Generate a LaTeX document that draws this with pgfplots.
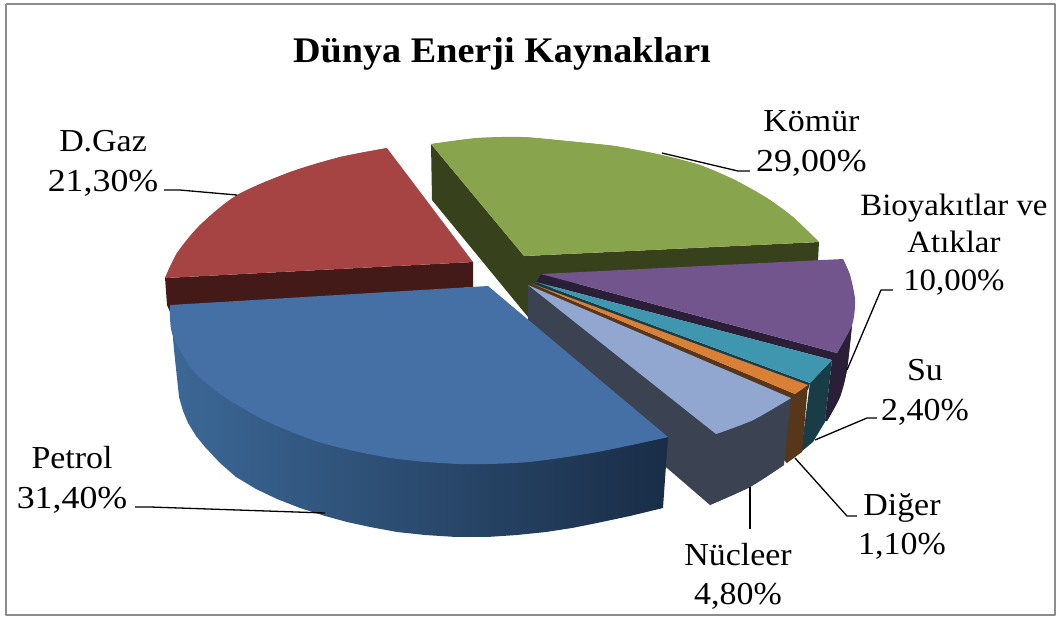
\documentclass[border=0pt]{standalone}
\usepackage{pgfplots}
\pgfplotsset{compat=1.18}
\usepackage{fontspec}
\setmainfont[FakeStretch=1.06]{Liberation Serif}
\newfontfamily\numf[FakeStretch=1.12]{Liberation Serif}
\definecolor{cgreen}{HTML}{88A44C}
\definecolor{cgreenD}{HTML}{37421D}
\definecolor{cred}{HTML}{A54442}
\definecolor{credD}{HTML}{431A18}
\definecolor{cblue}{HTML}{4570A5}
\definecolor{cblueL}{HTML}{3C6897}
\definecolor{cblueM}{HTML}{2C4F77}
\definecolor{cblueR}{HTML}{192D46}
\definecolor{cpurple}{HTML}{71558C}
\definecolor{cpurpleD}{HTML}{2B1F38}
\definecolor{cteal}{HTML}{3F96AF}
\definecolor{ctealD}{HTML}{193D47}
\definecolor{corange}{HTML}{D98036}
\definecolor{corangeD}{HTML}{57361A}
\definecolor{clight}{HTML}{92A7D0}
\definecolor{clightD}{HTML}{3B4353}
\newcommand{\lf}{\fontsize{32}{39.5}\selectfont}
\tikzset{lab/.style={overlay, inner sep=0pt, anchor=base, align=center}}
\begin{document}
\begin{tikzpicture}
\begin{axis}[
  scale only axis, width=1058pt, height=617pt,
  xmin=0, xmax=1058, ymin=0, ymax=617, y dir=reverse,
  hide axis, clip=false, no markers,
  every axis plot/.append style={line join=round},
]
% page extent
\addplot[draw=white, line width=0.1pt, forget plot] coordinates {(0,0) (1058,0) (1058,617) (0,617) (0,0)};
% frame
\addplot[draw=black!45, line width=2pt, forget plot] coordinates {(6,3.5) (1055,3.5) (1055,615) (6,615) (6,3.5)};
% D.Gaz
\addplot[fill=credD, draw=none] coordinates {(165,278) (473,262) (473,287) (170,312) (167,305)};
\addplot[fill=cred, draw=none] coordinates {(473,262) (387,148) (340,157) (290,172) (237,195) (200,225) (177,253) (165,278)};
\addplot[smooth, fill=cred, draw=none] coordinates {(387,148) (340,157) (290,172) (237,195) (200,225) (177,253) (165,278)};
% Komur
\addplot[fill=cgreenD, draw=none] coordinates {(431,144) (524,256) (819,242) (818,262) (560,285) (528,300) (528,317) (432,200)};
\addplot[fill=cgreen, draw=none] coordinates {(524,256) (431,144) (477,138) (523,137) (567,141) (615,146) (662,155) (700,165) (735,180) (767,198) (793,217) (819,242)};
\addplot[smooth, fill=cgreen, draw=none] coordinates {(431,144) (477,138) (523,137) (567,141) (615,146) (662,155) (700,165) (735,180) (767,198) (793,217) (819,242)};
% Biyoyakit
\addplot[fill=cpurpleD, draw=none] coordinates {(541,274) (837,353) (852,325) (847,370) (840,397) (827,421) (825,421) (832,360) (536,282)};
\addplot[smooth, fill=cpurpleD, draw=none] coordinates {(852,325) (847,370) (840,397) (827,421)};
\addplot[fill=cpurple, draw=none] coordinates {(541,274) (843,259) (850,275) (855,300) (852,325) (837,353)};
\addplot[smooth, fill=cpurple, draw=none] coordinates {(843,259) (850,275) (855,300) (852,325) (837,353)};
% Su
\addplot[fill=ctealD, draw=none] coordinates {(536,282) (810,383) (808,390) (534,285)};
\addplot[fill=ctealD, draw=none] coordinates {(832,360) (825,422) (813,442) (801,452) (810,383)};
\addplot[fill=cteal, draw=none] coordinates {(536,282) (832,360) (810,383)};
% Diger
\addplot[fill=corangeD, draw=none] coordinates {(533,284) (795,394) (790,398) (531,287)};
\addplot[fill=corangeD, draw=none] coordinates {(808,385) (802,452) (787,463) (784,460) (790,397)};
\addplot[fill=corange, draw=none] coordinates {(533,284) (808,385) (795,394)};
% Nukleer
\addplot[fill=clightD, draw=none] coordinates {(528,285) (791,398) (784,465) (750,487) (710,505) (667,468) (528,330)};
\addplot[smooth, fill=clightD, draw=none] coordinates {(784,465) (750,487) (710,505)};
\addplot[fill=clight, draw=none] coordinates {(528,285) (791,398) (753,420) (716,434)};
\addplot[smooth, fill=clight, draw=none] coordinates {(791,398) (753,420) (716,434)};
% Petrol
\addplot[left color=cblueL, middle color=cblueM, right color=cblueR, draw=none] coordinates {(170,305) (174,350) (179,397) (183,411) (188,423) (196,436) (205,447) (220,463) (236,477) (256,489) (277,499) (300,508) (325,516) (347,522) (370,527) (397,532) (425,535) (456,537) (487,537) (517,535) (546,532) (572,528) (597,523) (630,516) (663,508) (668,437)};
\addplot[fill=cblue, draw=none] coordinates {(488,286) (668,437) (597,452) (528,462) (460,464) (391,458) (322,443) (264,420) (219,393) (191,368) (172,333) (170,305)};
\addplot[smooth, fill=cblue, draw=none] coordinates {(668,437) (597,452) (528,462) (460,464) (391,458) (322,443) (264,420) (219,393) (191,368) (172,333) (170,305)};
% leaders
\addplot[black, line width=1.3pt] coordinates {(662,153) (738,171) (750,171)};
\addplot[black, line width=1.3pt] coordinates {(164,190) (180,190) (237,195)};
\addplot[black, line width=1.3pt] coordinates {(135,507) (150,507) (325,513)};
\addplot[black, line width=1.3pt] coordinates {(750,487) (750,529)};
\addplot[black, line width=1.3pt] coordinates {(795,458) (847,516) (857,516)};
\addplot[black, line width=1.3pt] coordinates {(815,440) (867,418) (877,418)};
\addplot[black, line width=1.3pt] coordinates {(847,370) (881,290) (893,290)};
% text
\node[overlay,inner sep=0pt,anchor=base,font=\fontsize{36}{40}\selectfont\bfseries] at (axis cs:502,62) {Dünya Enerji Kaynakları};
\node[lab,font=\lf] at (axis cs:811.5,171) {Kömür\\ {\numf 29,00\%}};
\node[lab,font=\lf] at (axis cs:103,191) {D.Gaz\\ {\numf 21,30\%}};
\node[lab,font=\lf] at (axis cs:72,508) {Petrol\\ {\numf 31,40\%}};
\node[lab,font=\fontsize{31}{37.5}\selectfont] at (axis cs:954,290) {Bioyakıtlar ve\\ Atıklar\\ 10,00\%};
\node[lab,font=\lf] at (axis cs:925,420) {Su\\ 2,40\%};
\node[lab,font=\lf] at (axis cs:902,555) {Diğer\\ 1,10\%};
\node[lab,font=\lf] at (axis cs:738,605) {Nücleer\\ 4,80\%};
\end{axis}
\end{tikzpicture}
\end{document}
